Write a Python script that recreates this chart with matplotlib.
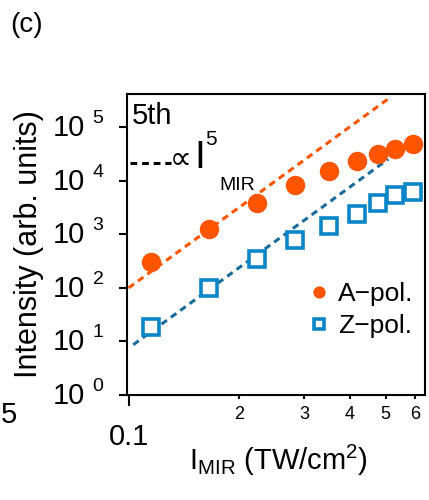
import numpy as np
import matplotlib
matplotlib.use("Agg")
import matplotlib.pyplot as plt
from matplotlib.transforms import blended_transform_factory, ScaledTranslation

plt.rcParams['font.family'] = ['Liberation Sans', 'DejaVu Sans']
plt.rcParams['mathtext.fontset'] = 'custom'
plt.rcParams['mathtext.rm'] = 'Liberation Sans'
plt.rcParams['mathtext.it'] = 'Liberation Sans:italic'
plt.rcParams['mathtext.bf'] = 'Liberation Sans:bold'

# intensidad MIR (TW/cm^2)
intensidad = [1.15, 1.65, 2.23, 2.84, 3.51, 4.19, 4.77, 5.30, 5.93]
# 5o armonico, polarizacion A y Z
a_pol = [300, 1250, 3800, 8300, 15000, 23000, 31000, 39000, 48000]
z_pol = [18.6, 99, 345, 780, 1420, 2400, 3800, 5400, 6100]

# ajuste ~ I^5
orden = 5
coef_a = 100
coef_z = 7.5
x_ajuste_a = [1.0, 5.08]
x_ajuste_z = [1.03, 5.08]

exponentes_y = [0, 1, 2, 3, 4, 5]
ticks_x = [2, 3, 4, 5, 6]

naranja = '#ff5500'
azul = '#0a86c8'
azul_oscuro = '#1a6b9a'
guiones = (0, (2.2, 1.6))

fig = plt.figure(figsize=(4.29, 5.0), dpi=100)
ax = fig.add_axes([0.296, 0.21, 0.695, 0.602])

xa = np.array(x_ajuste_a)
xz = np.array(x_ajuste_z)
ax.plot(xa, coef_a * xa**orden, ls=guiones, color=naranja, lw=2.2)
ax.plot(xz, coef_z * xz**orden, ls=guiones, color=azul_oscuro, lw=2.2)

ax.plot(intensidad, a_pol, 'o', color=naranja, ms=13, mec=naranja, label='A\u2212pol.')
ax.plot(intensidad, z_pol, 's', color=azul, ms=12, mfc='white', mec=azul, mew=2.6,
        label='Z\u2212pol.')

ax.set_xscale('log')
ax.set_yscale('log')
ax.set_xlim(0.99, 6.4)
ax.set_ylim(1, 10**5.62)

# eje y: "10" como etiqueta y el exponente aparte, arriba a la derecha
ax.set_yticks([10.0**k for k in exponentes_y])
ax.set_yticklabels(['10'] * len(exponentes_y))
ax.yaxis.set_minor_locator(matplotlib.ticker.NullLocator())
ax.tick_params(axis='y', which='major', labelsize=21, length=6, width=1.5,
               direction='out', pad=24)
subir_10 = ScaledTranslation(0, 1.5 / 72, fig.dpi_scale_trans)
for lab in ax.get_yticklabels():
    lab.set_transform(lab.get_transform() + subir_10)

trans_y = blended_transform_factory(ax.transAxes, ax.transData)
subir = ScaledTranslation(0, 3 / 72, fig.dpi_scale_trans)
for k in exponentes_y:
    ax.text(-0.115, 10.0**k, str(k), transform=trans_y + subir, ha='left',
            va='baseline', fontsize=14, clip_on=False)

# eje x
ax.set_xticks([1])
ax.set_xticklabels([''])
ax.set_xticks(ticks_x, minor=True)
ax.set_xticklabels([str(t) for t in ticks_x], minor=True)
ax.tick_params(axis='x', which='major', length=8, width=1.5, direction='out')
ax.tick_params(axis='x', which='minor', length=3, width=1.5, direction='out',
               labelsize=13, pad=5)

trans_x = blended_transform_factory(ax.transData, ax.transAxes)
ax.text(1, -0.14, '0.1', transform=trans_x, ha='center', va='center', fontsize=21)

for s in ax.spines.values():
    s.set_linewidth(1.5)

ax.set_ylabel('Intensity (arb. units)', fontsize=22)
ax.yaxis.set_label_coords(-0.279, 0.5)
ax.set_xlabel(r'I$_{\mathrm{MIR}}$ (TW/cm$^{2}$)', fontsize=21)
ax.xaxis.set_label_coords(0.507, -0.16)

ax.text(0.015, 0.975, '5th', transform=ax.transAxes, ha='left', va='top', fontsize=21)

# leyenda de la recta ~ I^5
ax.plot([0.01, 0.148], [0.771, 0.771], transform=ax.transAxes, color='black',
        ls=guiones, lw=2.2, clip_on=False)
ax.text(0.145, 0.754, '\u221d', transform=ax.transAxes, ha='left', va='baseline',
        fontsize=22, family=['DejaVu Sans'])
ax.text(0.226, 0.754, 'I', transform=ax.transAxes, ha='left', va='baseline', fontsize=28)
ax.text(0.262, 0.831, '5', transform=ax.transAxes, ha='left', va='baseline', fontsize=15)
ax.text(0.309, 0.681, 'MIR', transform=ax.transAxes, ha='left', va='baseline', fontsize=14)

ax.legend(loc='lower right', bbox_to_anchor=(1.04, 0.11), frameon=False, fontsize=19,
          handlelength=0.6, handletextpad=0.4, labelspacing=0.3, markerscale=0.6)

fig.text(0.023, 0.975, '(c)', ha='left', va='top', fontsize=20)
fig.text(0.002, 0.17, '5', ha='left', va='center', fontsize=21)

fig.savefig('out.png', dpi=100)
